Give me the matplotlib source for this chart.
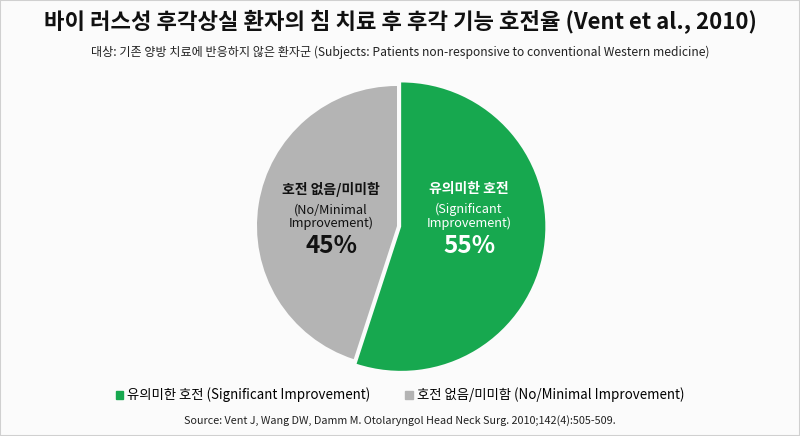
import matplotlib
matplotlib.use("Agg")
import matplotlib.pyplot as plt
from matplotlib.patches import Rectangle

plt.rcParams['font.family'] = ['Noto Sans CJK KR', 'DejaVu Sans']

title = "바이 러스성 후각상실 환자의 침 치료 후 후각 기능 호전율 (Vent et al., 2010)"
subtitle = "대상: 기존 양방 치료에 반응하지 않은 환자군 (Subjects: Patients non-responsive to conventional Western medicine)"
source = "Source: Vent J, Wang DW, Damm M. Otolaryngol Head Neck Surg. 2010;142(4):505-509."

labels_ko = ["유의미한 호전", "호전 없음/미미함"]
labels_en = ["(Significant\nImprovement)", "(No/Minimal\nImprovement)"]
legend_en = ["Significant Improvement", "No/Minimal Improvement"]
values = [55, 45]
colors = ["#17a84f", "#b4b4b4"]
text_colors = ["white", "#111111"]

fig = plt.figure(figsize=(8, 4.36), dpi=100)
fig.patch.set_facecolor("#fbfbfb")
fig.add_artist(Rectangle((0, 0), 1, 1, transform=fig.transFigure, fill=False,
                         edgecolor="#d0d0d0", linewidth=1.5))

# pie axes: center ~ (397,226) px, radius ~140 px
cx, cy, r = 397 / 800, 1 - 226 / 436, 140
ax = fig.add_axes([cx - r / 800, cy - r / 436, 2 * r / 800, 2 * r / 436])
wedges, _ = ax.pie(values, colors=colors, startangle=90, counterclock=False,
                   explode=[0.03, 0], radius=1.0,
                   wedgeprops=dict(edgecolor="none"), frame=False)
wedges[0].set_radius(1.03)
ax.set_xlim(-1, 1)
ax.set_ylim(-1, 1)
ax.set_aspect('auto')
ax.axis('off')


def fy(py):
    return 1 - py / 436


# in-slice labels (figure pixel centers)
label_x = [469, 331]
for i, x in enumerate(label_x):
    fx = x / 800
    fig.text(fx, fy(189), labels_ko[i], ha='center', va='center', fontsize=10,
             fontweight='bold', color=text_colors[i])
    fig.text(fx, fy(216.5), labels_en[i], ha='center', va='center', fontsize=9.2,
             color=text_colors[i], linespacing=1.05)
    fig.text(fx, fy(246), f"{values[i]}%", ha='center', va='center', fontsize=17.5,
             fontweight='bold', color=text_colors[i])

fig.text(0.5, fy(22), title, ha='center', va='center', fontsize=16,
         fontweight='bold', color="#111111")
fig.text(0.5, fy(52), subtitle, ha='center', va='center', fontsize=8.7,
         color="#222222")

handles = [Rectangle((0, 0), 1, 1, color=c) for c in colors]
leg_labels = [f"{k} ({e})" for k, e in zip(labels_ko, legend_en)]
fig.legend(handles, leg_labels, loc='center', bbox_to_anchor=(0.5, fy(395)),
           ncol=2, frameon=False, fontsize=9.6, handlelength=0.55, handleheight=0.55,
           handletextpad=0.3, columnspacing=2.6)

fig.text(0.5, fy(421), source, ha='center', va='center', fontsize=7.8,
         color="#222222")

fig.savefig("out.png", dpi=100, facecolor=fig.get_facecolor())
